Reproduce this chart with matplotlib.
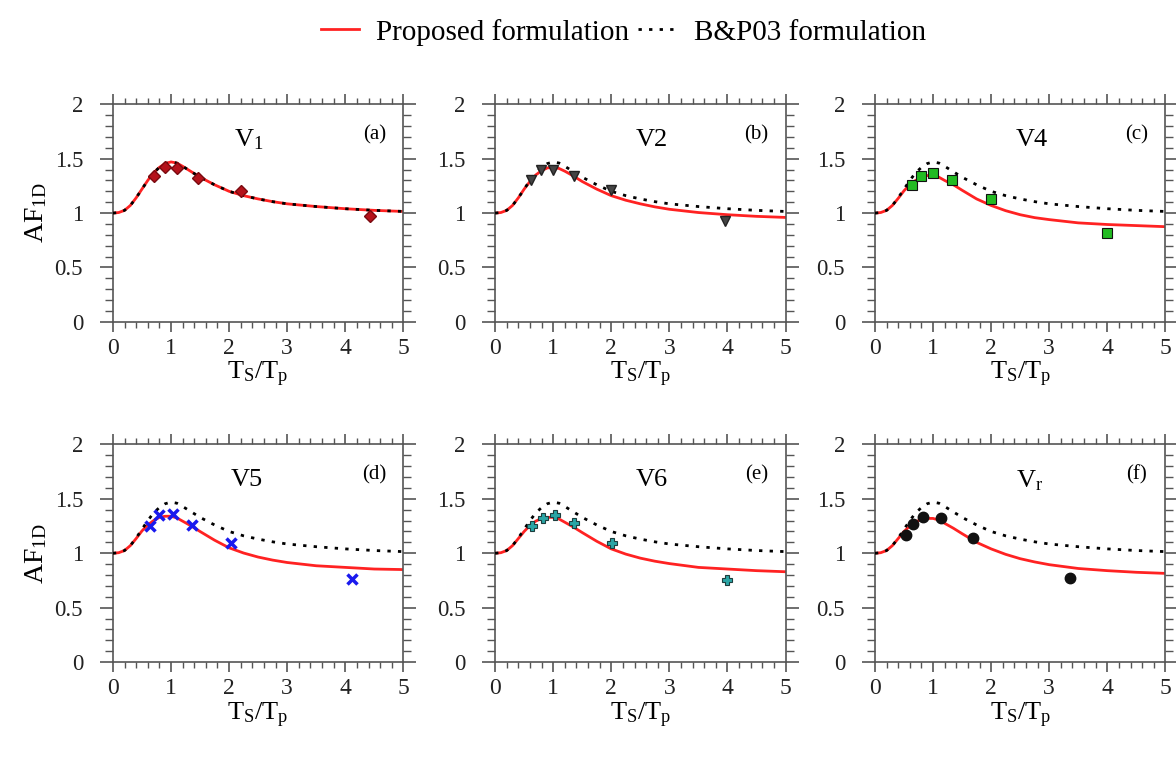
import numpy as np
import matplotlib
matplotlib.use("Agg")
import matplotlib.pyplot as plt
from matplotlib.ticker import MultipleLocator, FormatStrFormatter
from matplotlib.lines import Line2D

plt.rcParams['font.family'] = ['Liberation Serif', 'DejaVu Serif']
plt.rcParams['mathtext.fontset'] = 'custom'
plt.rcParams['mathtext.rm'] = 'Liberation Serif'
plt.rcParams['mathtext.it'] = 'Liberation Serif:italic'

x_curve = [0, 0.1, 0.2, 0.3, 0.4, 0.5, 0.6, 0.7, 0.8, 0.9, 1.0, 1.1, 1.2,
           1.35, 1.5, 1.75, 2.0, 2.25, 2.5, 2.75, 3.0, 3.5, 4.0, 4.5, 5.0]

# B&P03 formulation (dotted)
bp03 = [1.0, 1.005, 1.025, 1.07, 1.14, 1.22, 1.30, 1.37, 1.42, 1.455, 1.47, 1.46, 1.43,
        1.38, 1.33, 1.26, 1.20, 1.16, 1.13, 1.105, 1.085, 1.06, 1.04, 1.025, 1.015]

# proposed formulation (red), one per panel
prop_a = [1.0, 1.005, 1.025, 1.07, 1.14, 1.22, 1.30, 1.37, 1.42, 1.455, 1.47, 1.46, 1.43,
          1.38, 1.33, 1.26, 1.20, 1.16, 1.13, 1.105, 1.085, 1.06, 1.04, 1.025, 1.015]
prop_b = [1.0, 1.005, 1.025, 1.07, 1.14, 1.22, 1.29, 1.35, 1.39, 1.415, 1.42, 1.41, 1.385,
          1.34, 1.29, 1.22, 1.16, 1.118, 1.085, 1.057, 1.035, 1.005, 0.985, 0.97, 0.96]
prop_c = [1.0, 1.005, 1.025, 1.07, 1.135, 1.205, 1.26, 1.30, 1.33, 1.345, 1.345, 1.33, 1.30,
          1.26, 1.21, 1.13, 1.07, 1.022, 0.985, 0.958, 0.94, 0.91, 0.895, 0.885, 0.875]
prop_d = [1.0, 1.005, 1.025, 1.07, 1.135, 1.205, 1.26, 1.30, 1.33, 1.34, 1.34, 1.325, 1.295,
          1.25, 1.20, 1.12, 1.05, 1.002, 0.965, 0.937, 0.915, 0.885, 0.87, 0.855, 0.85]
prop_e = [1.0, 1.005, 1.025, 1.07, 1.135, 1.20, 1.255, 1.295, 1.32, 1.33, 1.33, 1.315, 1.285,
          1.24, 1.19, 1.11, 1.04, 0.992, 0.955, 0.927, 0.905, 0.87, 0.855, 0.84, 0.83]
prop_f = [1.0, 1.005, 1.025, 1.07, 1.135, 1.20, 1.25, 1.29, 1.31, 1.32, 1.32, 1.305, 1.275,
          1.23, 1.18, 1.10, 1.04, 0.99, 0.95, 0.92, 0.895, 0.86, 0.84, 0.825, 0.815]

# measured points per site
obs_x_a = [0.70, 0.89, 1.11, 1.47, 2.20, 4.42]
obs_y_a = [1.34, 1.42, 1.41, 1.325, 1.20, 0.97]
obs_x_b = [0.62, 0.79, 1.00, 1.36, 2.00, 3.95]
obs_y_b = [1.30, 1.40, 1.40, 1.34, 1.21, 0.93]
obs_x_c = [0.64, 0.80, 1.00, 1.33, 1.99, 3.99]
obs_y_c = [1.26, 1.34, 1.37, 1.30, 1.13, 0.815]
obs_x_d = [0.64, 0.80, 1.03, 1.36, 2.04, 4.11]
obs_y_d = [1.25, 1.35, 1.36, 1.26, 1.09, 0.76]
obs_x_e = [0.64, 0.82, 1.03, 1.36, 2.02, 4.00]
obs_y_e = [1.25, 1.32, 1.35, 1.275, 1.09, 0.75]
obs_x_f = [0.53, 0.66, 0.83, 1.13, 1.69, 3.35]
obs_y_f = [1.17, 1.27, 1.33, 1.32, 1.14, 0.775]

site_names = [r'V$_\mathrm{1}$', 'V2', 'V4', 'V5', 'V6', r'V$_\mathrm{r}$']
panel_tags = ['(a)', '(b)', '(c)', '(d)', '(e)', '(f)']

props = [prop_a, prop_b, prop_c, prop_d, prop_e, prop_f]
obs_x = [obs_x_a, obs_x_b, obs_x_c, obs_x_d, obs_x_e, obs_x_f]
obs_y = [obs_y_a, obs_y_b, obs_y_c, obs_y_d, obs_y_e, obs_y_f]

# marker styles
mk = [dict(marker='D', color='#b5121b', ms=6, mec='#7a0a10'),
      dict(marker='v', color='#444444', ms=6.5, mec='#222222'),
      dict(marker='s', color='#22bb22', ms=7.5, mec='#111111', mew=0.8),
      dict(marker='x', color='#1a1aee', ms=6.5, mew=2.5),
      dict(marker='P', color='#2aa5a5', ms=7.5, mec='#1d3d3d', mew=0.8),
      dict(marker='o', color='#111111', ms=7.5)]
name_x = [2.33, 2.69, 2.7, 2.3, 2.69, 2.66]

fig = plt.figure(figsize=(11.76, 7.61), dpi=100)
lefts = [0.096, 0.421, 0.744]
bottoms = [0.577, 0.130]
w, h = 0.247, 0.286

for i in range(6):
    r, c = divmod(i, 3)
    ax = fig.add_axes([lefts[c], bottoms[r], w, h])
    ax.plot(x_curve, props[i], color='#ff2222', lw=2, zorder=2)
    ax.plot(x_curve, bp03, color='black', lw=2, ls=(0, (1.2, 2.6)), zorder=3)
    ax.plot(obs_x[i], obs_y[i], ls='none', zorder=4, **mk[i])
    ax.set_xlim(0, 5)
    ax.set_ylim(0, 2)
    ax.xaxis.set_major_locator(MultipleLocator(1))
    ax.xaxis.set_minor_locator(MultipleLocator(0.2))
    ax.yaxis.set_major_locator(MultipleLocator(0.5))
    ax.yaxis.set_minor_locator(MultipleLocator(0.1))
    ax.yaxis.set_major_formatter(FormatStrFormatter('%g'))
    ax.tick_params(which='both', direction='out', top=True, right=True,
                   colors='#555555', labelcolor='#222222')
    ax.tick_params(axis='x', which='major', length=7.5, width=1.2, labelsize=17, pad=4)
    ax.tick_params(axis='y', which='major', length=9.5, width=1.2, labelsize=16.5, pad=12)
    ax.tick_params(axis='x', which='minor', length=4.5, width=1.0)
    ax.tick_params(axis='y', which='minor', length=5.5, width=1.0)
    for s in ax.spines.values():
        s.set_color('#555555')
        s.set_linewidth(1.2)
    ax.set_xlabel(r'T$_\mathrm{S}$/T$_\mathrm{p}$', fontsize=19, labelpad=1)
    if c == 0:
        ax.set_ylabel(r'AF$_\mathrm{1D}$', fontsize=20, labelpad=4)
    ax.text(name_x[i], 1.67, site_names[i], fontsize=19, ha='center', va='center')
    ax.text(4.5, 1.72, panel_tags[i], fontsize=15, ha='center', va='center')

handles = [Line2D([], [], color='#ff2222', lw=2),
           Line2D([], [], color='black', lw=2, ls=(0, (1.2, 2.6)))]
fig.legend(handles, ['Proposed formulation', 'B&P03 formulation'], loc='upper center',
           bbox_to_anchor=(0.53, 1.01), ncol=2, frameon=False, fontsize=21,
           handlelength=1.3, columnspacing=0.3, handletextpad=0.6)

fig.savefig('out.png', dpi=100)
